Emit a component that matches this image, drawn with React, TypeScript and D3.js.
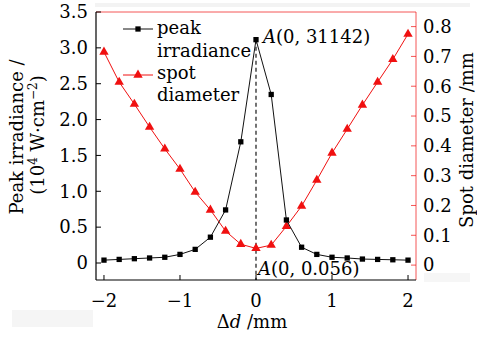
import React from 'react';
import * as d3 from 'd3';

// defocus distance (mm)
const deltaD = [-2, -1.8, -1.6, -1.4, -1.2, -1, -0.8, -0.6, -0.4, -0.2, 0, 0.2, 0.4, 0.6, 0.8, 1, 1.2, 1.4, 1.6, 1.8, 2];
// peak irradiance (10^4 W/cm^2)
const peakIrradiance = [0.04, 0.05, 0.06, 0.07, 0.08, 0.12, 0.19, 0.36, 0.74, 1.69, 3.1142, 2.35, 0.6, 0.22, 0.12, 0.08, 0.07, 0.055, 0.05, 0.045, 0.04];
// spot diameter (mm)
const spotDiameter = [0.715, 0.614, 0.54, 0.463, 0.39, 0.322, 0.245, 0.185, 0.114, 0.07, 0.056, 0.067, 0.13, 0.198, 0.285, 0.376, 0.456, 0.537, 0.614, 0.69, 0.775];

const xTicks = [-2, -1, 0, 1, 2];
const leftTicks = [0, 0.5, 1.0, 1.5, 2.0, 2.5, 3.0, 3.5];
const rightTicks = [0, 0.1, 0.2, 0.3, 0.4, 0.5, 0.6, 0.7, 0.8];

const W = 477, H = 338;
const left = 96, right = 416, top = 12, bottom = 280;
const RED = '#f01010';
const FONT = '"DejaVu Serif", serif';
const FS = 18;

const fmtTick = (v: number) => (v === 0 ? '0' : v.toFixed(1));
const fmtX = (v: number) => (v < 0 ? '\u2212' + Math.abs(v) : String(v));

export default function App() {
  const x = d3.scaleLinear().domain([-2.105, 2.105]).range([left, right]);
  const yL = d3.scaleLinear().domain([-0.237, 3.5]).range([bottom, top]);
  const yR = d3.scaleLinear().domain([-0.05, 0.849]).range([bottom, top]);

  const peakLine = d3.line<number>().x((_, i) => x(deltaD[i])).y((d) => yL(d))(peakIrradiance) || '';
  const spotLine = d3.line<number>().x((_, i) => x(deltaD[i])).y((d) => yR(d))(spotDiameter) || '';

  const square = d3.symbol().type(d3.symbolSquare).size(28)() || '';
  const triangle = d3.symbol().type(d3.symbolTriangle).size(38)() || '';

  const peakIdx = peakIrradiance.indexOf(d3.max(peakIrradiance) as number);

  return (
    <svg width={W} height={H} style={{ position: 'absolute', left: 0, top: 0, fontFamily: FONT }}>
      <rect width={W} height={H} fill="#fff" />
      {/* faint scan artefacts */}
      <rect x={95} y={3} width={375} height={4} fill="#f3f3f3" />
      <rect x={12} y={310} width={81} height={17} fill="#f5f5f5" />
      <rect x={424} y={273} width={46} height={9} fill="#f6f6f6" />

      {/* frame */}
      <line x1={left} x2={right} y1={top} y2={top} stroke={RED} strokeWidth={1} opacity={0.7} />
      <line x1={right} x2={right} y1={top} y2={bottom} stroke={RED} strokeWidth={1} opacity={0.7} />
      <line x1={left} x2={left} y1={top} y2={bottom} stroke="#000" strokeWidth={1.2} />
      <line x1={left} x2={right} y1={bottom} y2={bottom} stroke="#000" strokeWidth={1.2} />

      {/* left axis */}
      {leftTicks.map((t) => (
        <g key={'l' + t}>
          <line x1={left} x2={left + 5} y1={yL(t)} y2={yL(t)} stroke="#000" />
          <text x={88} y={yL(t)} dy="0.35em" textAnchor="end" fontSize={FS}>{fmtTick(t)}</text>
        </g>
      ))}
      {/* right axis */}
      {rightTicks.map((t) => (
        <g key={'r' + t}>
          <line x1={right} x2={right - 5} y1={yR(t)} y2={yR(t)} stroke={RED} opacity={0.7} />
          <text x={423} y={yR(t)} dy="0.35em" textAnchor="start" fontSize={FS}>{fmtTick(t)}</text>
        </g>
      ))}
      {/* bottom axis */}
      {xTicks.map((t) => (
        <g key={'x' + t}>
          <line x1={x(t)} x2={x(t)} y1={bottom} y2={bottom - 5} stroke="#000" />
          <text x={x(t)} y={307} textAnchor="middle" fontSize={FS}>{fmtX(t)}</text>
        </g>
      ))}

      {/* axis titles */}
      <text x={252} y={328} textAnchor="middle" fontSize={FS}>
        Δ<tspan fontStyle="italic">d</tspan> /mm
      </text>
      <text transform="translate(23,137) rotate(-90)" textAnchor="middle" fontSize={FS}>Peak irradiance /</text>
      <text transform="translate(44,135) rotate(-90)" textAnchor="middle" fontSize={FS}>
        (10<tspan fontSize={12} dy={-7}>4</tspan><tspan dy={7}> W·cm</tspan><tspan fontSize={12} dy={-7}>−2</tspan><tspan dy={7}>)</tspan>
      </text>
      <text transform="translate(473,140) rotate(-90)" textAnchor="middle" fontSize={FS}>Spot diameter /mm</text>

      {/* dashed guide at x = 0 */}
      <line x1={x(deltaD[peakIdx])} x2={x(deltaD[peakIdx])} y1={yL(peakIrradiance[peakIdx])} y2={bottom}
        stroke="#000" strokeDasharray="4,3" strokeWidth={1.1} />

      {/* series */}
      <path d={spotLine} fill="none" stroke={RED} strokeWidth={1} />
      {spotDiameter.map((d, i) => (
        <path key={'s' + i} d={triangle} transform={`translate(${x(deltaD[i])},${yR(d)})`} fill={RED} />
      ))}
      <path d={peakLine} fill="none" stroke="#111" strokeWidth={1} />
      {peakIrradiance.map((d, i) => (
        <path key={'p' + i} d={square} transform={`translate(${x(deltaD[i])},${yL(d)})`} fill="#000" />
      ))}

      {/* annotations */}
      <text x={263} y={43} fontSize={FS}><tspan fontStyle="italic">A</tspan>(0, 31142)</text>
      <text x={258} y={275} fontSize={FS}><tspan fontStyle="italic">A</tspan>(0, 0.056)</text>

      {/* legend */}
      <line x1={123} x2={153} y1={29} y2={29} stroke="#111" />
      <path d={square} transform="translate(138,29)" fill="#000" />
      <text x={157} y={34} fontSize={FS}>peak</text>
      <text x={157} y={57} fontSize={FS}>irradiance</text>
      <line x1={123} x2={153} y1={75} y2={75} stroke={RED} />
      <path d={triangle} transform="translate(138,75)" fill={RED} />
      <text x={157} y={79} fontSize={FS}>spot</text>
      <text x={157} y={101} fontSize={FS}>diameter</text>
    </svg>
  );
}
